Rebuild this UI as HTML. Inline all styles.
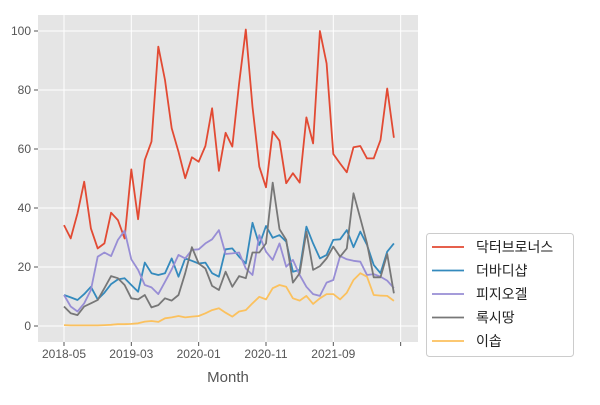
<!DOCTYPE html>
<html><head><meta charset="utf-8"><style>
body{margin:0;background:#fff;font-family:"Liberation Sans","Noto Sans CJK KR",sans-serif}
</style></head><body>
<svg id="chart" width="600" height="400" xmlns="http://www.w3.org/2000/svg" style="font-family:'Liberation Sans','Noto Sans CJK KR',sans-serif"></svg>
<script>
const seriesNames=["닥터브로너스","더바디샵","피지오겔","록시땅","이솝"];
const colors=["#E24A33","#348ABD","#988ED5","#777777","#FBC15E"];
const xTickLabels=["2018-05","2019-03","2020-01","2020-11","2021-09",""];
const xTickIdx=[0,10,20,30,40,50];
const yTicks=[0,20,40,60,80,100];
const sRed=[34.2,29.7,38.2,48.9,33.1,26.3,28,38.4,35.9,29.7,53.1,36.2,56.3,62.5,94.7,83.4,67,59.1,50.1,57.2,55.7,61,73.8,52.6,65.5,60.8,82.2,100.5,74.3,54,47,65.9,62.8,48.4,51.8,48.6,70.7,61.9,100,89,58.3,55.1,52.1,60.6,61,56.8,56.8,63,80.5,63.8];
const sBlue=[10.5,9.7,8.8,10.8,13.3,9,11.3,14.2,15.8,16.2,13.9,11.6,21.5,17.9,17.3,17.9,22.9,16.7,22.9,22.1,21.2,21.5,17.9,16.7,26,26.3,23.5,21.2,35,27.5,33.9,29.9,30.8,28.6,18.4,19,33.7,28,22.9,24.1,29.2,29.4,32.5,26.7,32,27.5,20.7,17.9,25.2,28];
const sPurple=[10.5,6.6,4.9,7.7,12.2,23.5,24.9,23.7,29.2,32.3,22.6,19,13.9,13.1,10.8,15,19.2,24.1,22.9,25.8,26,28,29.4,32.5,24.4,24.6,24.9,19.5,17.3,30.8,25.2,22.4,28,20.1,22.4,17.3,13.3,10.8,10.2,14.7,15.6,23.7,22.6,22.1,21.8,17.3,17.6,16.7,15.4,12.8];
const sGray=[6.6,4.3,3.7,6.6,7.7,8.8,12.8,16.9,16.2,13.9,9.4,9,10.5,6.3,7.1,9.4,8.6,10.5,17.9,26.7,21.2,19.5,13.6,12.2,18.4,13.3,16.9,16.2,24.9,24.9,28,48.6,32.8,29.2,14.7,17.9,32,19,20.3,22.9,26.9,23.5,26.3,45,36.5,28,16.5,16.5,24.4,11.1];
const sOrange=[0.3,0.2,0.2,0.2,0.2,0.2,0.3,0.4,0.6,0.6,0.7,0.9,1.5,1.7,1.4,2.6,2.9,3.4,2.9,3.2,3.4,4.3,5.4,6,4.5,3.2,4.9,5.4,7.7,9.9,9,12.8,13.9,13.3,9.4,8.6,10.2,7.5,9.4,10.8,10.8,9,11.3,15.6,17.9,16.7,10.5,10.3,10.2,8.5];
const allSeries=[sRed,sBlue,sPurple,sGray,sOrange];
const NS="http://www.w3.org/2000/svg";
const svg=document.getElementById('chart');
const L=38,R=418,T=15,B=342;
const X=i=>64+6.733*i;
const Y=v=>326-2.95*v;
function mk(t,a,p){const e=document.createElementNS(NS,t);for(const k in a)e.setAttribute(k,a[k]);(p||svg).appendChild(e);return e;}
const bg=mk('rect',{x:L,y:T,width:R-L,height:B-T,fill:'#E5E5E5'});


yTicks.forEach(v=>{
 const g=mk('line',{x1:L,x2:R,y1:Y(v),y2:Y(v),stroke:'#fff','stroke-width':1});
 
 
 mk('line',{x1:L-4,x2:L,y1:Y(v),y2:Y(v),stroke:'#555'});
 const t=mk('text',{x:L-7,y:Y(v)+4,'text-anchor':'end','font-size':12,fill:'#555'});
 t.textContent=v;
 
 
});
xTickIdx.forEach((ix,k)=>{
 const g=mk('line',{x1:X(ix),x2:X(ix),y1:T,y2:B,stroke:'#fff','stroke-width':1});
 
 
 mk('line',{x1:X(ix),x2:X(ix),y1:B,y2:B+4,stroke:'#555'});
 const t=mk('text',{x:X(ix),y:B+16,'text-anchor':'middle','font-size':12,fill:'#555'});
 t.textContent=xTickLabels[k];
 
 
});
const xt=mk('text',{x:(L+R)/2,y:382,'text-anchor':'middle','font-size':15,fill:'#555'});
xt.textContent='Month';


allSeries.forEach((s,k)=>{
 const p=mk('polyline',{points:s.map((v,i)=>X(i).toFixed(1)+','+Y(v).toFixed(1)).join(' '),fill:'none',stroke:colors[k],'stroke-width':1.8,'stroke-linejoin':'round'});
 
 
});
const lg=mk('rect',{x:426.5,y:233.5,width:147,height:123,rx:3,fill:'#fff',stroke:'#ccc'});


seriesNames.forEach((n,k)=>{
 const y=247+23.5*k;
 mk('line',{x1:432,x2:464,y1:y,y2:y,stroke:colors[k],'stroke-width':1.8});
 const t=mk('text',{x:476,y:y+5,'font-size':14,fill:'#222'});
 t.textContent=n;
 
 
});
</script>
</body></html>
